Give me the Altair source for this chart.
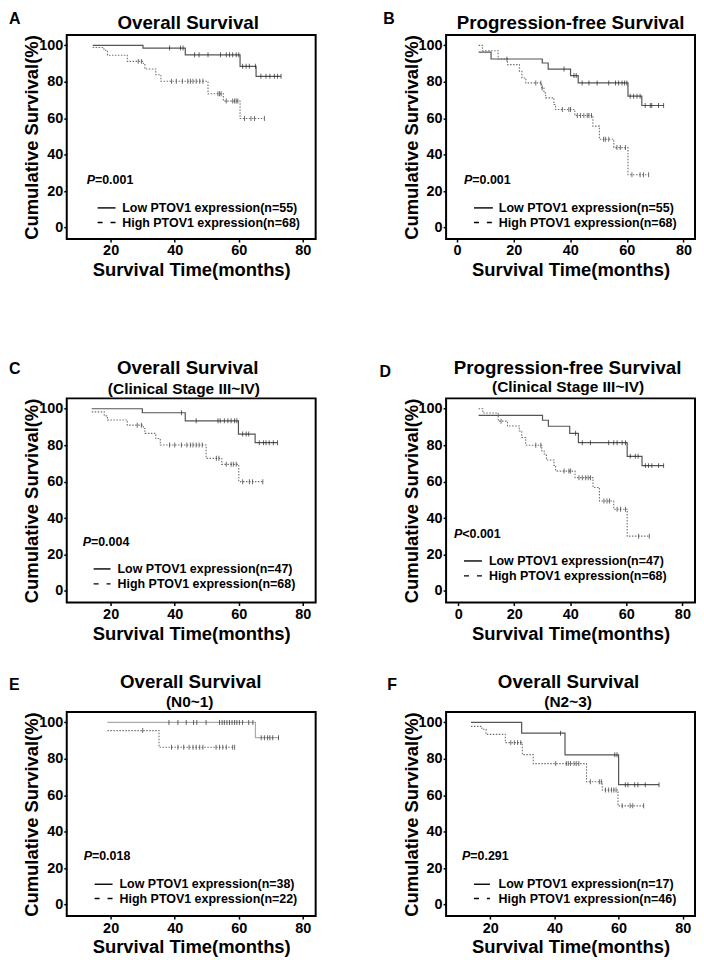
import altair as alt
import pandas as pd

FONT = "Liberation Sans"

# ---------------- data ----------------
# Step curves: times where a level starts (last = end of follow-up) and the survival level (%)
# Censor times (the survival value at each censor is looked up from the step curve)

# A: Overall Survival
A_low_t = [14.4, 30.1, 43.3, 60.4, 65.4, 73.2]
A_low_s = [100, 98.5, 94.8, 88.5, 83.0, 83.0]
A_low_c = [38.4, 41.8, 42.6, 46.2, 47.6, 50.4, 54.3, 56.1, 57.1, 58.1, 59.2, 60.0,
           61.2, 62.3, 63.3, 65.2, 66.9, 68.5, 69.7, 71.1, 72.1, 73.2]
A_high_t = [14.4, 17.9, 19.0, 25.2, 30.2, 30.7, 34.1, 35.7, 50.4, 55.2, 60.4, 68.0]
A_high_s = [98.8, 97.3, 94.6, 91.2, 89.4, 87.0, 83.9, 80.3, 73.4, 69.4, 59.9, 59.9]
A_high_c = [28.6, 29.6, 39.0, 40.5, 42.4, 44.1, 44.9, 45.7, 46.7, 47.8, 48.8, 53.5,
            54.0, 54.5, 56.1, 58.1, 58.7, 59.2, 59.7, 61.8, 63.8, 64.9, 68.0]

# B: Progression-free Survival
B_low_t = [7.6, 12.0, 30.1, 32.2, 40.1, 42.8, 60.4, 65.3, 73.0]
B_low_s = [96.3, 92.5, 90.3, 87.0, 83.4, 79.4, 72.1, 67.0, 67.0]
B_low_c = [37.8, 41.3, 42.1, 44.2, 46.6, 49.5, 53.6, 56.0, 57.1, 58.3, 59.2, 60.0,
           61.2, 62.4, 63.6, 64.7, 66.5, 68.3, 68.8, 71.2, 73.0]
B_high_t = [7.6, 9.0, 14.5, 17.8, 22.0, 22.9, 24.3, 29.9, 30.7, 31.3, 34.2, 34.8,
            41.6, 48.0, 50.3, 55.4, 60.4, 67.7]
B_high_s = [100, 97.0, 92.5, 89.4, 85.7, 82.1, 79.4, 76.6, 73.9, 71.2, 67.5, 64.8,
            61.5, 55.7, 48.5, 43.9, 29.0, 29.0]
B_high_c = [17.6, 27.8, 29.6, 30.1, 37.2, 39.5, 40.1, 42.5, 43.6, 44.8, 46.0, 46.6,
            47.5, 51.8, 52.4, 53.6, 56.5, 57.7, 59.5, 61.8, 64.7, 65.9, 67.7]

# C: Overall Survival (Clinical Stage III~IV)
C_low_t = [14.1, 29.9, 43.3, 59.9, 65.1, 72.1]
C_low_s = [100, 97.8, 93.4, 86.1, 81.4, 81.4]
C_low_c = [42.1, 46.7, 53.5, 54.2, 55.5, 56.6, 57.6, 58.7, 59.4, 61.2, 62.3, 63.1,
           66.4, 67.7, 68.5, 69.5, 70.8, 72.1]
C_high_t = [14.1, 18.0, 19.0, 25.2, 30.2, 30.7, 34.1, 35.5, 49.8, 54.7, 60.0, 67.5]
C_high_s = [98.3, 96.1, 93.8, 91.0, 89.2, 86.5, 83.7, 80.1, 72.8, 69.5, 60.0, 60.0]
C_high_c = [28.3, 29.6, 38.4, 40.0, 42.1, 43.8, 44.9, 45.7, 46.7, 47.6, 48.6, 53.0,
            53.8, 56.1, 57.6, 58.3, 59.2, 61.2, 63.3, 64.3, 67.5]

# D: Progression-free Survival (Clinical Stage III~IV)
D_low_t = [7.3, 30.1, 32.2, 39.8, 42.9, 60.3, 65.6, 73.3]
D_low_s = [96.4, 93.7, 90.4, 86.5, 81.4, 73.9, 68.8, 68.8]
D_low_c = [41.9, 44.3, 47.2, 53.7, 55.5, 56.7, 58.5, 59.7, 61.4, 63.2, 64.2, 66.8,
           67.9, 69.1, 71.5, 73.3]
D_high_t = [7.3, 8.8, 14.3, 17.6, 21.8, 22.7, 24.1, 29.8, 30.7, 31.5, 34.2, 34.8,
            41.7, 48.1, 50.4, 55.5, 60.3, 68.2]
D_high_s = [100, 97.7, 93.2, 90.5, 87.8, 84.2, 80.0, 77.0, 75.2, 71.9, 68.9, 65.8,
            62.2, 56.8, 49.4, 44.9, 30.1, 30.1]
D_high_c = [15.3, 27.7, 29.5, 37.8, 39.5, 40.1, 43.1, 44.3, 45.5, 46.4, 47.2, 52.0,
            53.1, 54.0, 56.7, 57.9, 59.7, 64.4, 68.2]

# E: Overall Survival (N0~1)
E_low_t = [19.0, 65.2, 72.4]
E_low_s = [100, 91.6, 91.6]
E_low_c = [38.2, 41.0, 43.6, 45.9, 46.9, 49.8, 54.0, 54.8, 55.5, 56.3, 57.1, 57.9,
           58.7, 59.4, 60.2, 61.2, 63.1, 64.4, 67.0, 68.0, 69.0, 69.7, 70.6, 72.4]
E_high_t = [19.0, 35.1, 58.7]
E_high_s = [95.5, 86.4, 86.4]
E_high_c = [30.0, 39.0, 41.0, 42.8, 44.5, 45.7, 46.7, 47.8, 48.8, 52.9, 54.0, 55.0,
            56.1, 58.1, 58.7]

# F: Overall Survival (N2~3)
F_low_t = [14.0, 29.8, 43.3, 60.0, 72.6]
F_low_s = [100, 94.1, 82.2, 65.8, 65.8]
F_low_c = [41.9, 58.8, 59.5, 62.1, 62.9, 65.0, 66.0, 68.3, 72.6]
F_high_t = [14.0, 17.4, 18.7, 24.7, 30.0, 33.4, 50.0, 54.9, 59.8, 67.8]
F_high_s = [97.8, 96.2, 93.4, 88.9, 82.3, 77.4, 67.4, 62.9, 54.2, 54.2]
F_high_c = [26.4, 27.5, 28.5, 29.5, 40.4, 43.7, 44.3, 45.0, 46.1, 46.8, 47.6, 51.2,
            54.0, 54.6, 55.9, 56.9, 57.8, 58.5, 59.2, 61.1, 63.6, 64.4, 67.8]

Y_TICKS = [0, 20, 40, 60, 80, 100]
X_TICKS_LEFT = [20, 40, 60, 80]
X_TICKS_PFS = [0, 20, 40, 60, 80]

# ---------------- panel layout settings ----------------
PANELS = [
    dict(letter="A", title="Overall Survival", sub=None, xdom=[6.3, 84.0], xticks=X_TICKS_LEFT,
         p="=0.001", n=(55, 68), lo=(A_low_t, A_low_s, A_low_c), hi=(A_high_t, A_high_s, A_high_c),
         lo_color="#555555",
         letter_pos=(-58, -24), title_pos=(122, -6), sub_pos=None, p_pos=(20, 150),
         leg_x=(31, 49), leg_y=(173.7, 188.3), leg_tx=55.7, leg_ty=(178, 192.5)),
    dict(letter="B", title="Progression-free Survival", sub=None, xdom=[-3.9, 84.1], xticks=X_TICKS_PFS,
         p="=0.001", n=(55, 68), lo=(B_low_t, B_low_s, B_low_c), hi=(B_high_t, B_high_s, B_high_c),
         lo_color="#555555",
         letter_pos=(-63, -24), title_pos=(125, -6), sub_pos=None, p_pos=(18, 150),
         leg_x=(28, 47), leg_y=(173.7, 188.3), leg_tx=53, leg_ty=(178, 192.5)),
    dict(letter="C", title="Overall Survival", sub="(Clinical Stage III~IV)", xdom=[6.3, 84.0],
         xticks=X_TICKS_LEFT, p="=0.004", n=(47, 68), lo=(C_low_t, C_low_s, C_low_c),
         hi=(C_high_t, C_high_s, C_high_c), lo_color="#555555",
         letter_pos=(-58, -37), title_pos=(121.5, -24), sub_pos=(117.7, -4.5), p_pos=(16, 148),
         leg_x=(27, 44), leg_y=(171.3, 186.3), leg_tx=51, leg_ty=(175, 190)),
    dict(letter="D", title="Progression-free Survival", sub="(Clinical Stage III~IV)", xdom=[-4.3, 84.5],
         xticks=X_TICKS_PFS, p="<0.001", n=(47, 68), lo=(D_low_t, D_low_s, D_low_c),
         hi=(D_high_t, D_high_s, D_high_c), lo_color="#555555",
         letter_pos=(-67, -34), title_pos=(122, -24), sub_pos=(122.5, -6), p_pos=(8, 140),
         leg_x=(18, 36), leg_y=(163.3, 178.3), leg_tx=43, leg_ty=(167, 182)),
    dict(letter="E", title="Overall Survival", sub="(N0~1)", xdom=[6.3, 84.0], xticks=X_TICKS_LEFT,
         p="=0.018", n=(38, 22), lo=(E_low_t, E_low_s, E_low_c), hi=(E_high_t, E_high_s, E_high_c),
         lo_color="#aaaaaa",
         letter_pos=(-58, -35), title_pos=(124.5, -24), sub_pos=(123.5, -5.3), p_pos=(17, 148.7),
         leg_x=(28, 46), leg_y=(173, 187.3), leg_tx=53, leg_ty=(176.5, 191.5)),
    dict(letter="F", title="Overall Survival", sub="(N2~3)", xdom=[6.25, 83.8], xticks=X_TICKS_LEFT,
         p="=0.291", n=(17, 46), lo=(F_low_t, F_low_s, F_low_c), hi=(F_high_t, F_high_s, F_high_c),
         lo_color="#555555",
         letter_pos=(-59, -35), title_pos=(123, -24), sub_pos=(122.5, -5.3), p_pos=(16, 148.7),
         leg_x=(28, 44), leg_y=(173, 187.3), leg_tx=52.7, leg_ty=(176.5, 191.5)),
]

W, H = 250, 205
YDOM = [-6.3, 105.7]
ONE = pd.DataFrame({"a": [0]})


def step_df(t, s):
    return pd.DataFrame({"t": t, "s": s})


def cens_df(c, t, s):
    vals = []
    for ct in c:
        idx = max(i for i, tt in enumerate(t) if tt <= ct)
        vals.append(s[idx])
    return pd.DataFrame({"t": c, "s": vals})


def text(x, y, label, size, style="normal", align="left", baseline="alphabetic"):
    return alt.Chart(ONE).mark_text(
        text=label, font=FONT, fontSize=size, fontWeight="bold", fontStyle=style,
        color="black", align=align, baseline=baseline,
    ).encode(x=alt.value(x), y=alt.value(y))


def panel(cfg):
    X = alt.X("t:Q", scale=alt.Scale(domain=cfg["xdom"], nice=False, zero=False),
              axis=alt.Axis(values=cfg["xticks"], title="Survival Time(months)",
                            titleY=37, titleBaseline="alphabetic", format="d"))
    Y = alt.Y("s:Q", scale=alt.Scale(domain=YDOM, nice=False, zero=False),
              axis=alt.Axis(values=Y_TICKS, title="Cumulative Survival(%)",
                            titleX=-29, titleBaseline="alphabetic", format="d"))
    lt, ls, lc = cfg["lo"]
    ht, hs, hc = cfg["hi"]
    layers = [
        alt.Chart(step_df(lt, ls)).mark_line(interpolate="step-after", color=cfg["lo_color"],
                                             strokeWidth=1.2).encode(x=X, y=Y),
        alt.Chart(step_df(ht, hs)).mark_line(interpolate="step-after", color="#707070",
                                             strokeWidth=1.1, strokeDash=[1.5, 1.5]).encode(x=X, y=Y),
        alt.Chart(cens_df(lc, lt, ls)).mark_tick(orient="vertical", size=5, thickness=1,
                                                 color="#222222").encode(x=X, y=Y),
        alt.Chart(cens_df(hc, ht, hs)).mark_tick(orient="vertical", size=5, thickness=1,
                                                 color="#333333").encode(x=X, y=Y),
    ]
    lx, ly = cfg["letter_pos"]
    layers.append(text(lx, ly, cfg["letter"], 16, baseline="top"))
    tx, ty = cfg["title_pos"]
    layers.append(text(tx, ty, cfg["title"], 18.8, align="center"))
    if cfg["sub"]:
        sx, sy = cfg["sub_pos"]
        layers.append(text(sx, sy, cfg["sub"], 15.5, align="center"))
    px, py = cfg["p_pos"]
    layers.append(text(px, py, "P", 12.5, style="italic"))
    layers.append(text(px + 8.3, py, cfg["p"], 12.5))
    x1, x2 = cfg["leg_x"]
    y1, y2 = cfg["leg_y"]
    layers.append(alt.Chart(ONE).mark_rule(color="black", strokeWidth=1.4).encode(
        x=alt.value(x1), x2=alt.value(x2), y=alt.value(y1)))
    layers.append(alt.Chart(ONE).mark_rule(color="black", strokeWidth=1.4, strokeDash=[5, 8]).encode(
        x=alt.value(x1), x2=alt.value(x2), y=alt.value(y2)))
    t1, t2 = cfg["leg_ty"]
    nl, nh = cfg["n"]
    layers.append(text(cfg["leg_tx"], t1, f"Low PTOV1 expression(n={nl})", 12.5))
    layers.append(text(cfg["leg_tx"], t2, f"High PTOV1 expression(n={nh})", 12.5))
    return alt.layer(*layers).properties(width=W, height=H)


def spacer(h):
    return alt.Chart(ONE).mark_point(opacity=0).encode(
        x=alt.X("a:Q", axis=None), y=alt.Y("a:Q", axis=None)
    ).properties(width=W, height=h, view=alt.ViewBackground(stroke="transparent", strokeWidth=0))


charts = [panel(c) for c in PANELS]
grid = [charts[0], charts[1], spacer(160), spacer(160),
        charts[2], charts[3], spacer(110), spacer(110),
        charts[4], charts[5]]

chart = alt.concat(*grid, columns=2, bounds="flush",
                   spacing={"row": 0, "column": 131}, padding=0).configure_view(
    stroke="black", strokeWidth=2
).configure_axis(
    grid=False, domain=False, ticks=True, tickColor="black", tickWidth=1.5, tickSize=3,
    labelFont=FONT, labelFontSize=14.5, labelFontWeight="bold", labelColor="black",
    titleFont=FONT, titleFontSize=18.5, titleFontWeight="bold", titleColor="black",
).configure_axisX(labelPadding=2).configure_axisY(labelPadding=1).properties(background="white")

chart.save("out.html", embed_options={"renderer": "svg", "actions": False})
